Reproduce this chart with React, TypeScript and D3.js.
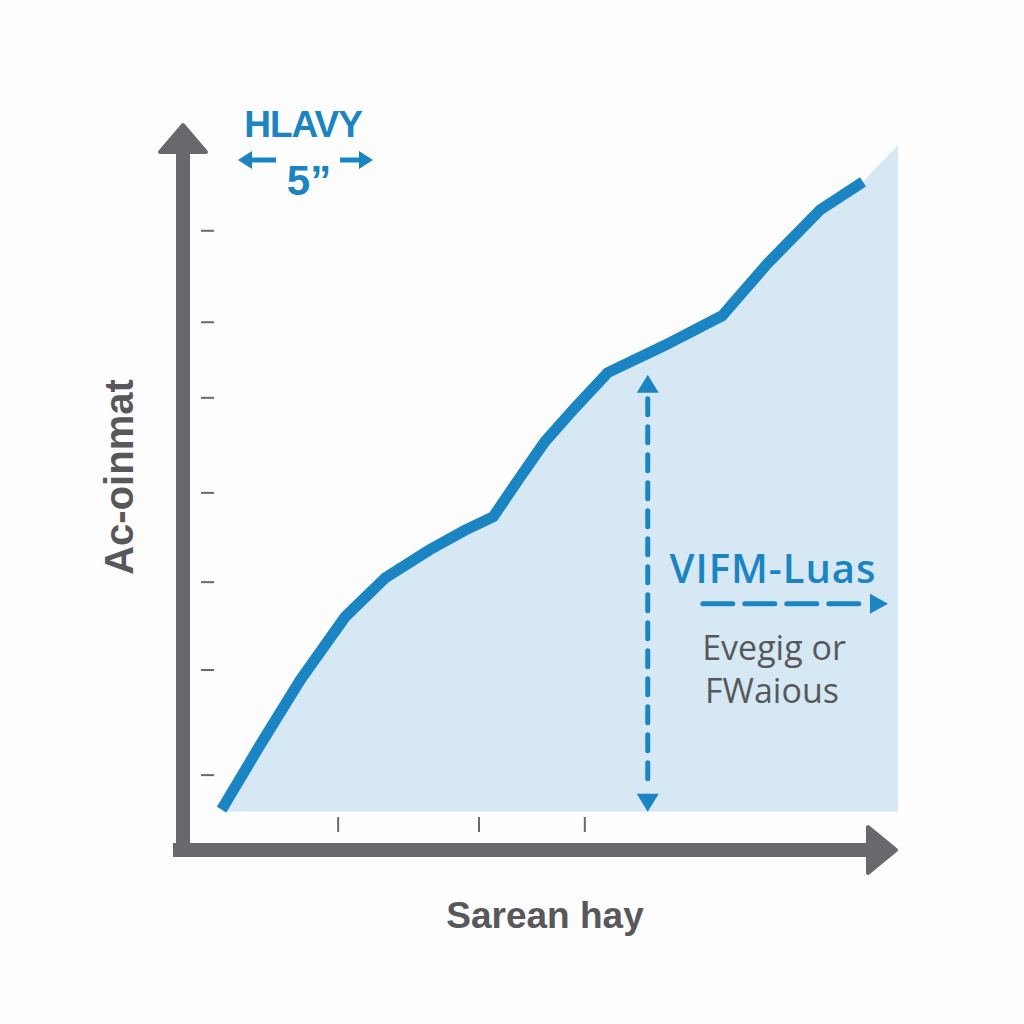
import React from "react";
import * as d3 from "d3";

const xValues = [5.4, 10.8, 16.4, 22.7, 28.3, 34.5, 39.4, 43.4, 47.1, 50.6, 54.8, 59.4, 67.4, 75.4, 81.7, 89.1, 95.1];
const yValues = [5.6, 14.6, 23.6, 32.4, 37.8, 41.7, 44.4, 46.3, 51.7, 56.7, 61.4, 66.3, 70.1, 74.2, 81.4, 88.9, 92.8];
const areaEnd = { x: 100, y: 97.9 };
const areaBase = 5.3;
const yTicks = [86, 73.3, 62.8, 49.6, 37.2, 25, 10.4];
const xTicks = [21.7, 41.4, 56.2];
const markerX = 65;
const markerY = [66, 5.3];
const arrowY = 34.2;
const arrowX = [72.7, 98.6];
const titleTop = "HLAVY";
const titleSub = "5\u201D";
const yLabel = "Ac-oinmat";
const xLabel = "Sarean hay";
const noteTitle = "VIFM-Luas";
const noteLines = ["Evegig or", "FWaious"];

const BLUE = "#1a85c2";
const GRAY = "#69696d";
const TEXTGRAY = "#58585c";

export default function App() {
  const W = 1024, H = 1024;
  const x = d3.scaleLinear().domain([0, 100]).range([183, 898]);
  const y = d3.scaleLinear().domain([0, 100]).range([850, 130]);
  const pts = xValues.map((v, i) => ({ x: v, y: yValues[i] }));
  const line = d3.line<any>().x(d => x(d.x)).y(d => y(d.y));
  const area = d3.area<any>().x(d => x(d.x)).y0(y(areaBase)).y1(d => y(d.y));
  const areaPts = [...pts, areaEnd];

  const ax = x(0), ay = y(0);
  return (
    <svg width={W} height={H} style={{ position: "absolute", left: 0, top: 0, background: "#fff" }}>
      <rect width={W} height={H} fill="#fdfdfd" />
      <path d={area(areaPts) || ""} fill="#d7e8f5" />
      {/* axes */}
      <line x1={ax} x2={ax} y1={ay + 7} y2={148} stroke={GRAY} strokeWidth={14} />
      <path d={`M${ax},${125} L${ax + 23},${152} L${ax - 23},${152} Z`} fill={GRAY} stroke={GRAY} strokeWidth={4} strokeLinejoin="round" />
      <line x1={ax - 10} x2={870} y1={ay} y2={ay} stroke={GRAY} strokeWidth={14} />
      <path d={`M${896},${ay} L${868},${ay - 23} L${868},${ay + 23} Z`} fill={GRAY} stroke={GRAY} strokeWidth={4} strokeLinejoin="round" />
      {yTicks.map((t, i) => (
        <line key={i} x1={201} x2={214} y1={y(t)} y2={y(t)} stroke={GRAY} strokeWidth={2} />
      ))}
      {xTicks.map((t, i) => (
        <line key={i} x1={x(t)} x2={x(t)} y1={817} y2={832} stroke={GRAY} strokeWidth={2} />
      ))}
      {/* line */}
      <path d={line(pts) || ""} fill="none" stroke={BLUE} strokeWidth={11} strokeLinejoin="miter" />
      {/* vertical dashed arrow */}
      <line x1={x(markerX)} x2={x(markerX)} y1={y(markerY[0]) + 24} y2={y(markerY[1]) - 24} stroke={BLUE} strokeWidth={5} strokeDasharray="16 12" strokeLinecap="round" />
      <path d={`M${x(markerX)},${y(markerY[0])} l11,18 l-22,0 Z`} fill={BLUE} />
      <path d={`M${x(markerX)},${y(markerY[1])} l11,-18 l-22,0 Z`} fill={BLUE} />
      {/* horizontal dashed arrow */}
      <line x1={x(arrowX[0])} x2={x(arrowX[1]) - 18} y1={y(arrowY)} y2={y(arrowY)} stroke={BLUE} strokeWidth={5} strokeDasharray="30 12" strokeLinecap="round" />
      <path d={`M${x(arrowX[1])},${y(arrowY)} l-18,-10 l0,20 Z`} fill={BLUE} />
      {/* note text */}
      <text x={773} y={583} textAnchor="middle" fontFamily="Open Sans, Liberation Sans, sans-serif" fontWeight={600} fontSize={40} letterSpacing={1} fill={BLUE}>{noteTitle}</text>
      <text x={774} y={660} textAnchor="middle" fontFamily="Open Sans, Liberation Sans, sans-serif" fontSize={34} fill={TEXTGRAY}>{noteLines[0]}</text>
      <text x={772} y={703} textAnchor="middle" fontFamily="Open Sans, Liberation Sans, sans-serif" fontSize={34} fill={TEXTGRAY}>{noteLines[1]}</text>
      {/* title */}
      <text x={303} y={137} textAnchor="middle" fontFamily="Liberation Sans, Arial, sans-serif" fontWeight={700} fontSize={37} fill={BLUE} letterSpacing={-1}>{titleTop}</text>
      <text x={309} y={195} textAnchor="middle" fontFamily="Liberation Sans, Arial, sans-serif" fontWeight={700} fontSize={42} fill={BLUE}>{titleSub}</text>
      <line x1={250} x2={276} y1={160} y2={160} stroke={BLUE} strokeWidth={5} />
      <path d="M238,160 l14,-9 l0,18 Z" fill={BLUE} />
      <line x1={340} x2={362} y1={160} y2={160} stroke={BLUE} strokeWidth={5} />
      <path d="M373,160 l-14,-9 l0,18 Z" fill={BLUE} />
      {/* axis labels */}
      <text transform="translate(133,477) rotate(-90)" textAnchor="middle" fontFamily="Liberation Sans, Arial, sans-serif" fontWeight={700} fontSize={40} fill={TEXTGRAY}>{yLabel}</text>
      <text x={545} y={928} textAnchor="middle" fontFamily="Liberation Sans, Arial, sans-serif" fontWeight={700} fontSize={37} fill={TEXTGRAY}>{xLabel}</text>
    </svg>
  );
}
